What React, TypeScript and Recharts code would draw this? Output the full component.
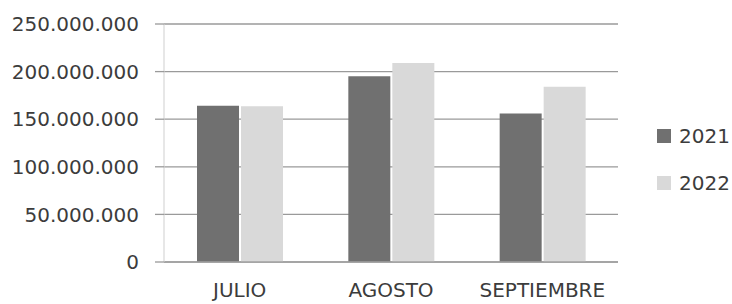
import React from "react";
import { BarChart, Bar, XAxis, YAxis, CartesianGrid } from "recharts";

const MONTHS = ["JULIO", "AGOSTO", "SEPTIEMBRE"];
const VALUES_2021 = [164000000, 195000000, 156000000];
const VALUES_2022 = [163500000, 209000000, 184000000];
const Y_TICKS = [0, 50000000, 100000000, 150000000, 200000000, 250000000];

const SERIES = [
  { key: "y2021", name: "2021", color: "#707070" },
  { key: "y2022", name: "2022", color: "#d9d9d9" },
];

const data = MONTHS.map((month, i) => ({
  month,
  y2021: VALUES_2021[i],
  y2022: VALUES_2022[i],
}));

const FONT = "'DejaVu Sans', sans-serif";
const TEXT = "#3c3c3c";

const formatMillions = (v: number) =>
  String(v).replace(/\B(?=(\d{3})+(?!\d))/g, ".");

// legend sits outside the chart so it doesn't eat plot height
function LegendBox() {
  return (
    <div
      style={{
        position: "absolute",
        left: 657,
        top: 124,
        fontFamily: FONT,
        fontSize: 20,
        color: TEXT,
      }}
    >
      {SERIES.map((s, i) => (
        <div
          key={s.key}
          style={{
            display: "flex",
            alignItems: "center",
            height: 24,
            marginTop: i === 0 ? 0 : 23,
          }}
        >
          <span
            style={{
              width: 14,
              height: 14,
              background: s.color,
              marginRight: 8,
              display: "inline-block",
            }}
          />
          <span>{s.name}</span>
        </div>
      ))}
    </div>
  );
}

export default function App() {
  return (
    <div
      style={{
        position: "absolute",
        left: 0,
        top: 0,
        width: 732,
        height: 304,
        background: "#ffffff",
        overflow: "hidden",
      }}
    >
      <BarChart
        width={732}
        height={304}
        data={data}
        margin={{ top: 24, right: 114, bottom: 0, left: 0 }}
        barSize={42}
        barGap={2}
      >
        <CartesianGrid vertical={false} stroke="#9a9a9a" strokeWidth={1.3} />
        <XAxis
          dataKey="month"
          height={42}
          interval={0}
          tickLine={false}
          axisLine={{ stroke: "#a0a0a0", strokeWidth: 1.3 }}
          tickMargin={15}
          tick={{ fontFamily: FONT, fontSize: 20, fill: TEXT }}
        />
        <YAxis
          width={164}
          domain={[0, 250000000]}
          ticks={Y_TICKS}
          interval={0}
          tickFormatter={formatMillions}
          tickSize={9}
          tickMargin={16}
          tickLine={{ stroke: "#9a9a9a", strokeWidth: 1.3 }}
          axisLine={{ stroke: "#cfcfcf" }}
          tick={{ fontFamily: FONT, fontSize: 20, fill: TEXT }}
        />
        {SERIES.map((s) => (
          <Bar
            key={s.key}
            dataKey={s.key}
            name={s.name}
            fill={s.color}
            isAnimationActive={false}
          />
        ))}
      </BarChart>
      <LegendBox />
    </div>
  );
}
